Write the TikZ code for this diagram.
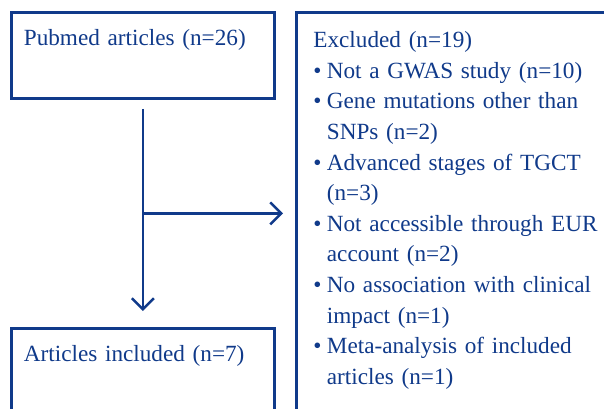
\documentclass[tikz,border=0pt]{standalone}
\usepackage{fontspec}
\setmainfont{Liberation Serif}
\usetikzlibrary{arrows.meta,calc}
\definecolor{flowblue}{RGB}{16,58,138}
\newcommand{\contline}{\hspace*{13.5pt}}
\newcommand{\exbullet}{\makebox[13.5pt][l]{\textbullet}}

\begin{document}
\begin{tikzpicture}[x=1pt,y=-1pt,>={Straight Barb[length=11pt,width=22pt]},
  box/.style={draw=flowblue, line width=2.8pt, rectangle, anchor=north west, align=left, inner ysep=0pt, text=flowblue, font=\fontsize{23.2}{30.65}\selectfont},
  link/.style={draw=flowblue, line width=2.5pt, ->}]
\useasboundingbox[fill=white] (0,0) rectangle (604,408);
\node[box, inner xsep=12.5pt, text width=238pt, text height=33.5pt, text depth=52.5pt] (pubmed) at (10,11) {Pubmed articles (n=26)};
\node[box, inner xsep=17pt, text width=320pt, text height=35pt, text depth=420pt] (excluded) at (295,11) {Excluded (n=19)\\
\exbullet Not a GWAS study (n=10)\\
\exbullet Gene mutations other than\\
\contline SNPs (n=2)\\
\exbullet Advanced stages of TGCT\\
\contline (n=3)\\
\exbullet Not accessible through EUR\\
\contline account (n=2)\\
\exbullet No association with clinical\\
\contline impact (n=1)\\
\exbullet Meta-analysis of included\\
\contline articles (n=1)};
\node[box, inner xsep=12.5pt, text width=238pt, text height=33pt, text depth=90pt] (included) at (10,327) {Articles included (n=7)};

\coordinate (split) at ($(pubmed.south)!0.5!(included.north)$);
\draw[link, shorten <=9pt, shorten >=16pt] (pubmed.south) -- (included.north);
\draw[link, shorten >=12pt] (split) -- (split -| excluded.west);
\end{tikzpicture}
\end{document}
